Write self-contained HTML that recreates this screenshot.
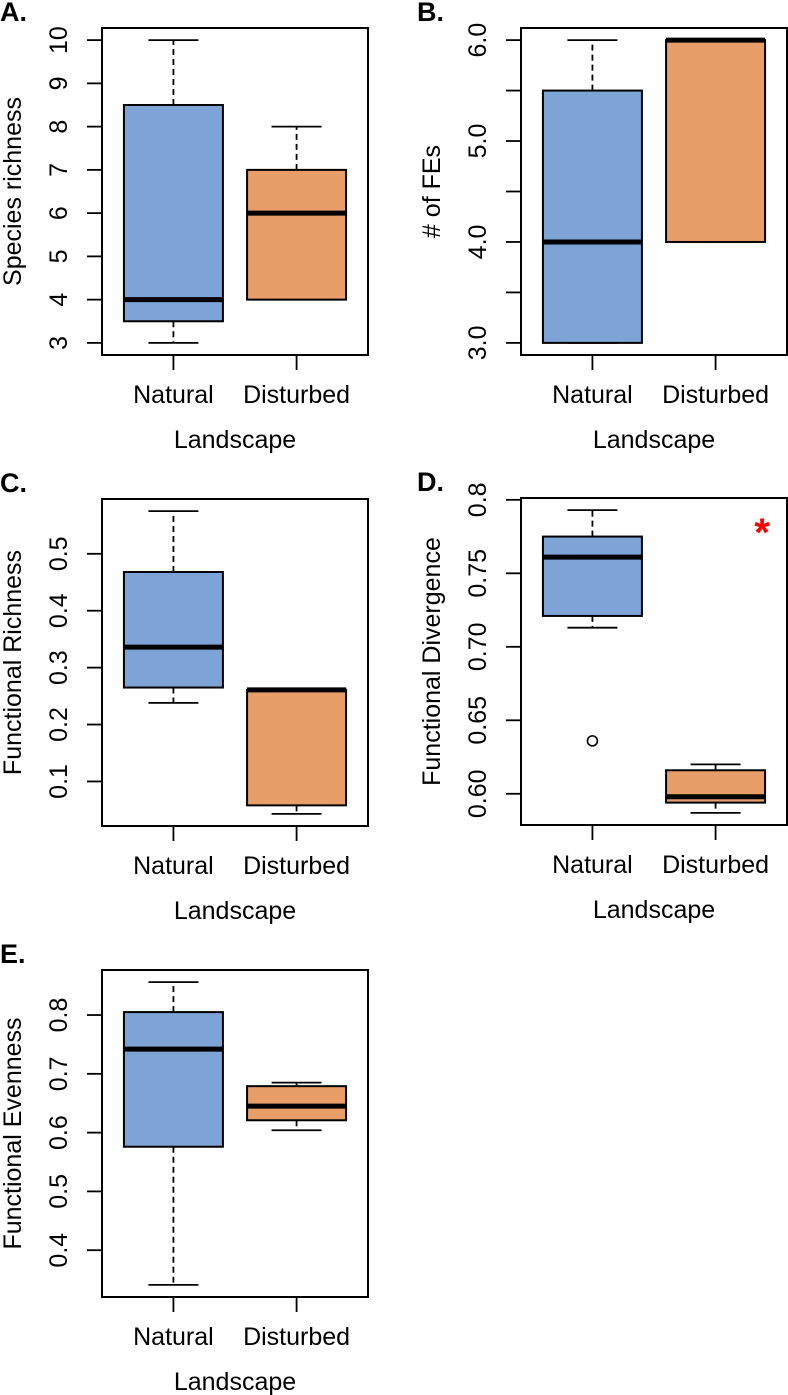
<!DOCTYPE html>
<html><head><meta charset="utf-8"><style>
html,body{margin:0;padding:0;background:#fff;}
svg{display:block;font-family:"Liberation Sans",Arial,sans-serif;}
</style></head><body>
<svg id="fig" width="788" height="1395" viewBox="0 0 788 1395" xmlns="http://www.w3.org/2000/svg"></svg>
<script>
// ---- data ----
const categories = ["Natural", "Disturbed"];
const panelLetters = ["A.", "B.", "C.", "D.", "E."];
const yTitles = ["Species richness", "# of FEs", "Functional Richness", "Functional Divergence", "Functional Evenness"];
// each stat: [lowerWhisker, q1, median, q3, upperWhisker]
const statsA = [[3, 3.5, 4, 8.5, 10], [4, 4, 6, 7, 8]];
const statsB = [[3, 3, 4, 5.5, 6], [4, 4, 6, 6, 6]];
const statsC = [[0.238, 0.265, 0.336, 0.468, 0.575], [0.043, 0.058, 0.261, 0.261, 0.261]];
const statsD = [[0.713, 0.721, 0.761, 0.775, 0.793], [0.587, 0.594, 0.598, 0.616, 0.620]];
const statsE = [[0.341, 0.576, 0.742, 0.805, 0.856], [0.604, 0.621, 0.645, 0.679, 0.685]];
const outliersD = [[0.636], []];
const ticksA = [3, 4, 5, 6, 7, 8, 9, 10];
const tickLabelsA = ["3", "4", "5", "6", "7", "8", "9", "10"];
const ticksB = [3, 3.5, 4, 4.5, 5, 5.5, 6];
const tickLabelsB = ["3.0", "", "4.0", "", "5.0", "", "6.0"];
const ticksC = [0.1, 0.2, 0.3, 0.4, 0.5];
const tickLabelsC = ["0.1", "0.2", "0.3", "0.4", "0.5"];
const ticksD = [0.6, 0.65, 0.7, 0.75, 0.8];
const tickLabelsD = ["0.60", "0.65", "0.70", "0.75", "0.8"];
const ticksE = [0.4, 0.5, 0.6, 0.7, 0.8];
const tickLabelsE = ["0.4", "0.5", "0.6", "0.7", "0.8"];

const svg = document.getElementById('fig');
const NS = 'http://www.w3.org/2000/svg';
function mk(tag, attrs, parent) {
  const e = document.createElementNS(NS, tag);
  for (const k in attrs) e.setAttribute(k, attrs[k]);
  (parent || svg).appendChild(e);
  return e;
}
const fills = ["#7EA3D6", "#E89E69"];
const panels = [
  {stats: statsA, out: [[], []], ticks: ticksA, labels: tickLabelsA, x: 102, y: 28, star: false},
  {stats: statsB, out: [[], []], ticks: ticksB, labels: tickLabelsB, x: 521, y: 28, star: false},
  {stats: statsC, out: [[], []], ticks: ticksC, labels: tickLabelsC, x: 102, y: 499, star: false},
  {stats: statsD, out: outliersD, ticks: ticksD, labels: tickLabelsD, x: 521, y: 498, star: true},
  {stats: statsE, out: [[], []], ticks: ticksE, labels: tickLabelsE, x: 102, y: 970, star: false}
];
const W = 266, H = 327, FS = 25;

panels.forEach((p, i) => {
  const g = mk('g', {});
  
  
  let vals = [];
  p.stats.forEach(s => vals.push(...s));
  p.out.forEach(o => vals.push(...o));
  const mn = Math.min(...vals), mx = Math.max(...vals);
  const ext = (mx - mn) * 0.04;
  const lo = mn - ext, hi = mx + ext;
  const yS = v => p.y + H - (v - lo) / (hi - lo) * H;
  const xr = k => p.x + (k + 1 - 0.42) / (2.5 + 0.08 - 0.42) * W;

  const letter = mk('text', {x: p.x < 300 ? 0 : 417, y: p.y - 7, 'font-size': 27, 'font-weight': 'bold'}, g);
  letter.textContent = panelLetters[i];
  
  

  p.ticks.forEach((t, j) => {
    const yy = yS(t);
    const tk = mk('line', {x1: p.x - 15, x2: p.x, y1: yy, y2: yy, stroke: '#000', 'stroke-width': 1.8}, g);
    
    
    if (p.labels[j]) {
      const tl = mk('text', {x: 0, y: 0, 'font-size': FS, 'text-anchor': 'middle', transform: `translate(${p.x - 35},${yy}) rotate(-90)`}, g);
      tl.textContent = p.labels[j];
      
      
    }
  });
  const yt = mk('text', {x: 0, y: 0, 'font-size': FS, 'text-anchor': 'middle', transform: `translate(${p.x - 81},${p.y + H / 2}) rotate(-90)`}, g);
  yt.textContent = yTitles[i];
  
  

  p.stats.forEach((s, k) => {
    const cx = xr(k);
    const bw = 99, cw = 25;
    const bg = mk('g', {}, g);
    
    
    if (s[4] > s[3]) mk('line', {x1: cx, x2: cx, y1: yS(s[3]), y2: yS(s[4]), stroke: '#000', 'stroke-width': 1.8, 'stroke-dasharray': '6,4'}, bg);
    if (s[0] < s[1]) mk('line', {x1: cx, x2: cx, y1: yS(s[1]), y2: yS(s[0]), stroke: '#000', 'stroke-width': 1.8, 'stroke-dasharray': '6,4'}, bg);
    mk('line', {x1: cx - cw, x2: cx + cw, y1: yS(s[4]), y2: yS(s[4]), stroke: '#000', 'stroke-width': 1.8}, bg);
    mk('line', {x1: cx - cw, x2: cx + cw, y1: yS(s[0]), y2: yS(s[0]), stroke: '#000', 'stroke-width': 1.8}, bg);
    mk('rect', {x: cx - bw / 2, y: yS(s[3]), width: bw, height: Math.max(yS(s[1]) - yS(s[3]), 0), fill: fills[k], stroke: '#000', 'stroke-width': 2}, bg);
    mk('line', {x1: cx - bw / 2, x2: cx + bw / 2, y1: yS(s[2]), y2: yS(s[2]), stroke: '#000', 'stroke-width': 5}, bg);
    p.out[k].forEach(o => {
      const c = mk('circle', {cx: cx, cy: yS(o), r: 5, fill: 'none', stroke: '#000', 'stroke-width': 1.6}, bg);
      
      
    });
    const xt = mk('line', {x1: cx, x2: cx, y1: p.y + H, y2: p.y + H + 15, stroke: '#000', 'stroke-width': 1.8}, g);
    
    
    const xl = mk('text', {x: cx, y: p.y + H + 48, 'font-size': FS, 'text-anchor': 'middle'}, g);
    xl.textContent = categories[k];
    
    
  });
  const xtit = mk('text', {x: p.x + W / 2, y: p.y + H + 93, 'font-size': FS, 'text-anchor': 'middle'}, g);
  xtit.textContent = 'Landscape';
  
  

  const fr = mk('rect', {x: p.x, y: p.y, width: W, height: H, fill: 'none', stroke: '#000', 'stroke-width': 2}, g);
  
  

  if (p.star) {
    const st = mk('text', {x: 762, y: 546, 'font-size': 40, 'font-weight': 'bold', fill: '#f00', 'text-anchor': 'middle'}, g);
    st.textContent = '*';
    
    
  }
});
</script>
</body></html>
